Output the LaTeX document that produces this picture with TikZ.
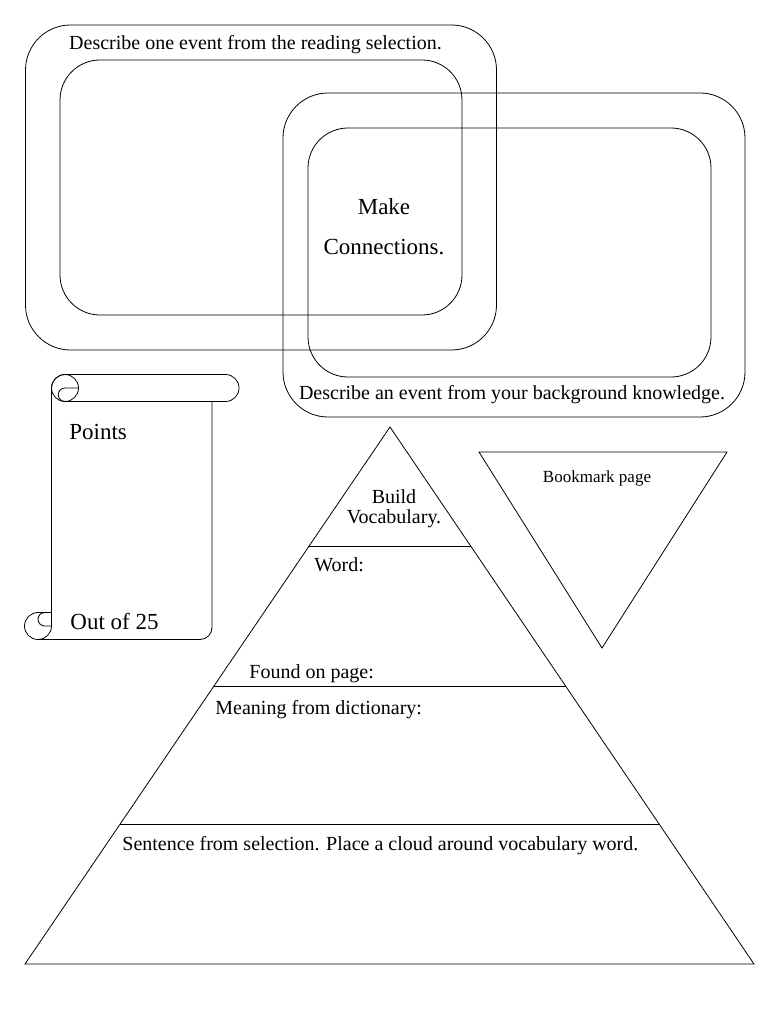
\documentclass[tikz,border=0pt]{standalone}
\usepackage{fontspec}
\setmainfont{Liberation Serif}
\usetikzlibrary{calc}
\begin{document}
\begin{tikzpicture}[x=1pt,y=-1pt,line width=0.8pt,
  rbox/.style={draw,rectangle,inner sep=0pt,outer sep=0pt},
  txt/.style={inner sep=0pt,font=\fontsize{20}{24}\selectfont},
  bigtxt/.style={inner sep=0pt,font=\fontsize{23}{27}\selectfont},
  smalltxt/.style={inner sep=0pt,font=\fontsize{17}{20}\selectfont}]
\useasboundingbox[fill=white] (0,0) rectangle (768,1024);
% connection rectangles
\node[rbox,rounded corners=45pt,minimum width=471pt,minimum height=325pt] (outerA) at (261,187.5) {};
\node[rbox,rounded corners=40pt,minimum width=402pt,minimum height=255pt] (innerA) at (261,187.5) {};
\node[rbox,rounded corners=45pt,minimum width=462pt,minimum height=324pt] (outerB) at (514,255) {};
\node[rbox,rounded corners=40pt,minimum width=403pt,minimum height=249pt] (innerB) at (509.5,252.5) {};
\node[txt] (readsel) at (255.5,45) {Describe one event from the reading selection.};
\node[bigtxt] (make) at (384,207) {Make};
\node[bigtxt] (conn) at (384,247) {Connections.};
\node[txt] (backk) at (512,395) {Describe an event from your background knowledge.};
% scroll
\draw (65,374.5) -- (225.5,374.5) arc[start angle=-90,end angle=90,radius=13.5] -- (65,401.5);
\draw (65,374.5) arc[start angle=-90,end angle=-180,radius=13.5] -- (51.5,626);
\draw (65,388) circle[radius=13.5];
\draw (65,401.5) arc[start angle=90,end angle=270,radius=6.75] -- (78.5,388);
\draw (212,401.5) -- (212,627.5) arc[start angle=0,end angle=90,radius=12] -- (38,639.5);
\draw (51.5,626) arc[start angle=0,end angle=270,radius=13.5] -- (51.5,612.5);
\draw (44.75,612.5) arc[start angle=270,end angle=90,radius=6.75] -- (51.5,626);
\node[bigtxt,anchor=west] (points) at (69,432) {Points};
\node[bigtxt,anchor=west] (outof) at (70,622) {Out of 25};
% pyramid
\coordinate (apex) at (390,427);
\coordinate (bl) at (25,964);
\coordinate (br) at (754,964);
\draw (apex) -- (bl) -- (br) -- cycle;
\coordinate (l1) at ($(apex)!0.2216!(bl)$);
\coordinate (r1) at ($(apex)!0.2216!(br)$);
\coordinate (l2) at ($(apex)!0.4823!(bl)$);
\coordinate (r2) at ($(apex)!0.4823!(br)$);
\coordinate (l3) at ($(apex)!0.7393!(bl)$);
\coordinate (r3) at ($(apex)!0.7393!(br)$);
\draw (l1) -- (r1);
\draw (l2) -- (r2);
\draw (l3) -- (r3);
\node[txt] (build) at (394,497) {Build};
\node[txt] (vocab) at (394,519) {Vocabulary.};
\node[txt,anchor=west] (word) at (314,565) {Word:};
\node[txt,anchor=west] (found) at (249,674) {Found on page:};
\node[txt,anchor=west] (meaning) at (215,710) {Meaning from dictionary:};
\node[txt,anchor=west] (sentence) at (122,846) {Sentence from selection. Place a cloud around vocabulary word.};
% bookmark triangle
\coordinate (ta) at (479,452);
\coordinate (tb) at (727,452);
\coordinate (tc) at (602,648);
\draw (ta) -- (tb) -- (tc) -- cycle;
\node[smalltxt] (bookmark) at (597,478) {Bookmark page};
\end{tikzpicture}
\end{document}
